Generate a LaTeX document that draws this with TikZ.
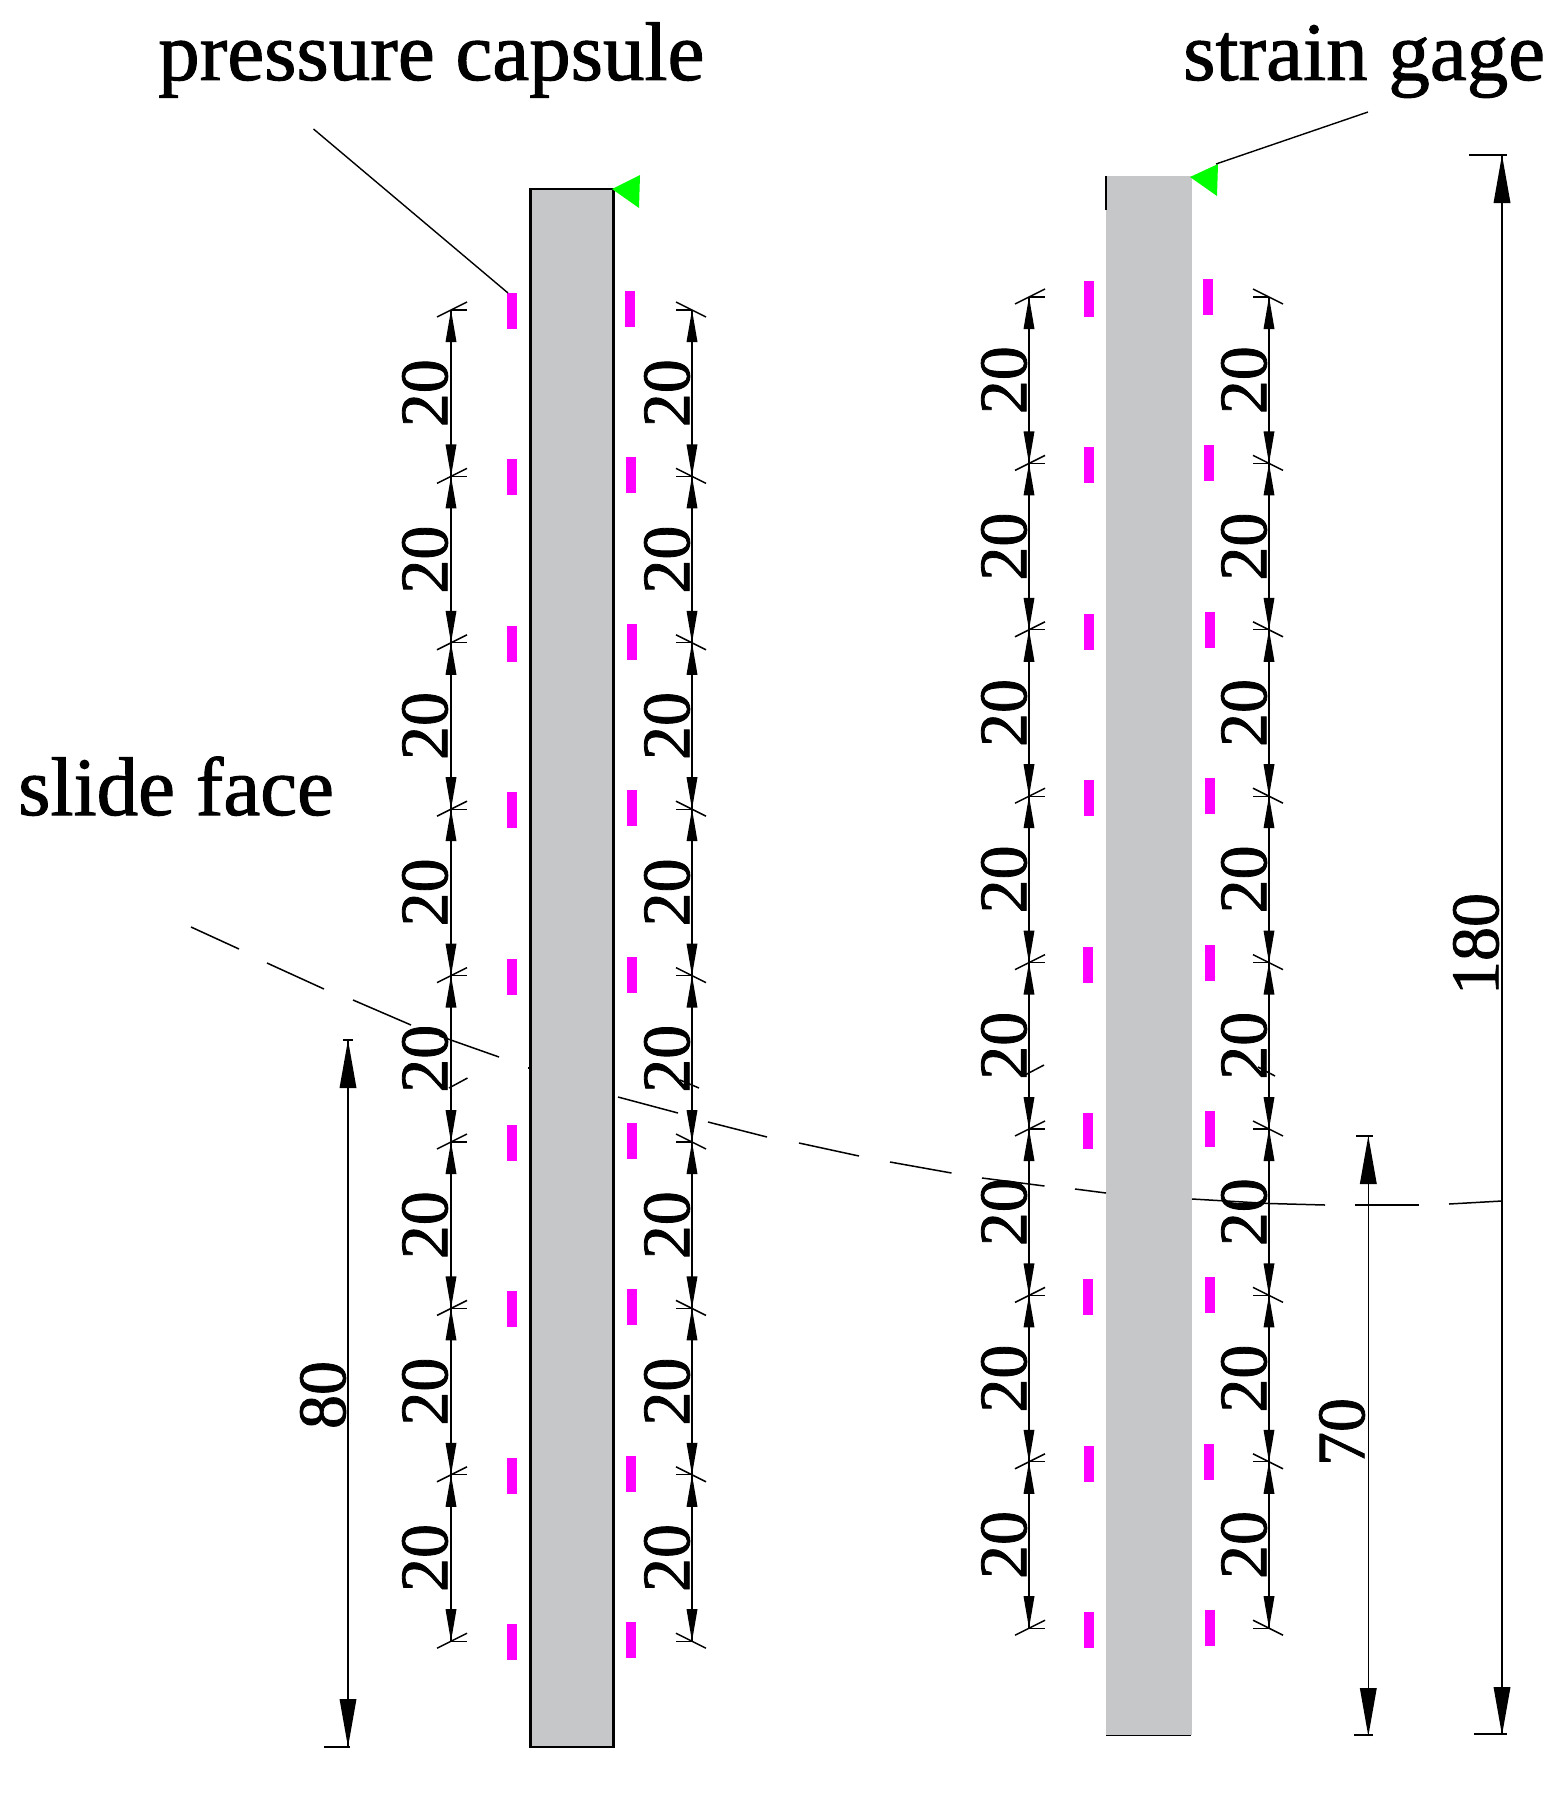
\documentclass[tikz,border=0pt]{standalone}
\usepackage{fontspec}
\setmainfont{Liberation Serif}
\newfontfamily\heavyserif[FakeBold=1.2]{Liberation Serif}
\definecolor{pile}{HTML}{C6C7C9}
\definecolor{mag}{HTML}{FF00FF}
\definecolor{grn}{HTML}{00FF00}
\tikzset{
  biglabel/.style={inner sep=0pt,font=\heavyserif\fontsize{83}{83}\selectfont,anchor=base west},
  dimlabel/.style={inner sep=0pt,font=\heavyserif\fontsize{68}{68}\selectfont,rotate=90},
  tickline/.style={line width=1.5pt,black},
  leader/.style={line width=1.4pt,black},
  slide/.style={line width=1.5pt,black},
  gauge/.style={fill=mag,draw=none},
  head/.style={fill=black,draw=none},
}
\newcommand{\smallhead}[3]{\fill[head] (#1,#2) -- (#1-5.5,#2+#3*32) -- (#1+5.5,#2+#3*32) -- cycle;}
\newcommand{\bighead}[3]{\fill[head] (#1,#2) -- (#1-8.5,#2+#3*48) -- (#1+8.5,#2+#3*48) -- cycle;}
% #1 x, #2 first y, #3 label x, #4 side, #5 line width
\newcommand{\dimcol}[5]{%
  \foreach \i in {0,...,8}{%
    \pgfmathsetmacro{\yy}{#2+\i*166.4}%
    \draw[tickline] (#1-#4*14,\yy+7) -- (#1+#4*16,\yy-8);
    \draw[tickline,line width=1.1pt] (#1,\yy) -- (#1+#4*16,\yy);
  }%
  \foreach \i in {0,...,7}{%
    \pgfmathsetmacro{\ya}{#2+\i*166.4}%
    \pgfmathsetmacro{\yb}{#2+(\i+1)*166.4}%
    \pgfmathsetmacro{\yc}{#2+(\i+0.5)*166.4}%
    \draw[line width=#5] (#1,\ya) -- (#1,\yb);
    \smallhead{#1}{\ya}{1}
    \smallhead{#1}{\yb}{-1}
    \node[dimlabel] (lab-#1-\i) at (#3,\yc) {20};
  }%
}
\begin{document}
\begin{tikzpicture}[x=1pt,y=-1pt]
\useasboundingbox (0,0) rectangle (1561,1801);
% piles
\path[fill=pile] (531,189) rectangle (613,1747);
\draw[line width=2.6pt,black] (530.5,189) -- (613.5,189) -- (613.5,1747) -- (530.5,1747) -- cycle;
\draw[line width=1.2pt,black] (529.5,233) -- (529.5,1747);
\path[fill=pile] (1106,176) rectangle (1192,1735);
\draw[line width=1.2pt,black] (1106,176) -- (1106,210);
\draw[line width=1pt,black] (1106,1735) -- (1191,1735);
% green triangles
\fill[grn] (612,189) -- (640,175) -- (639,208) -- cycle;
\fill[grn] (1190,177) -- (1218,164) -- (1217,196) -- cycle;
% gauges
\foreach \i in {0,...,8}{\pgfmathsetmacro{\yy}{293+\i*166.4}\fill[gauge] (506.5,\yy) rectangle ++(10,36);}
\foreach \i/\xx in {0/625,1/626,2/627,3/627,4/627,5/627,6/627,7/626,8/626}{\pgfmathsetmacro{\yy}{291+\i*166.4}\fill[gauge] (\xx,\yy) rectangle ++(10,36);}
\foreach \i/\xx in {0/1084,1/1084,2/1084,3/1084,4/1083,5/1083,6/1083,7/1084,8/1084}{\pgfmathsetmacro{\yy}{281+\i*166.4}\fill[gauge] (\xx,\yy) rectangle ++(10,36);}
\foreach \i/\xx in {0/1203,1/1204,2/1205,3/1205,4/1205,5/1205,6/1205,7/1204,8/1205}{\pgfmathsetmacro{\yy}{279+\i*166.4}\fill[gauge] (\xx,\yy) rectangle ++(10,36);}
% 20 dimension columns
\dimcol{451}{310}{425}{1}{1.2pt}
\dimcol{692}{310}{667}{-1}{1.2pt}
\dimcol{1029}{297}{1004}{1}{1.8pt}
\dimcol{1269}{297}{1244}{-1}{1.8pt}
% stray ticks
\draw[tickline] (449,1088) -- (467.5,1078);
\draw[tickline] (680,1080) -- (699,1088);
\draw[tickline] (1025,1075) -- (1044,1065);
\draw[tickline] (1258,1067) -- (1275,1076);
% slide face
\coordinate (s0) at (191,927);\coordinate (s1) at (239,949);
\coordinate (s2) at (267,963);\coordinate (s3) at (324,989);
\coordinate (s4) at (353,1000);\coordinate (s5) at (411,1025);
\coordinate (s6) at (439.5,1036);\coordinate (s7) at (499,1057);
\coordinate (s8) at (618,1097);\coordinate (s9) at (678,1113);
\coordinate (s10) at (708,1122);\coordinate (s11) at (767,1137);
\coordinate (s12) at (799,1143);\coordinate (s13) at (859,1156);
\coordinate (s14) at (890,1162);\coordinate (s15) at (951.5,1173);
\coordinate (s16) at (982,1178);\coordinate (s17) at (1044.5,1186);
\coordinate (s18) at (1075,1189);\coordinate (s19) at (1106,1193);
\coordinate (s20) at (1192,1199);\coordinate (s21) at (1269,1203.5);\coordinate (s22) at (1325,1205);
\coordinate (s23) at (1355,1205);\coordinate (s24) at (1419,1205);
\coordinate (s25) at (1449,1204);\coordinate (s26) at (1502,1201);
\foreach \a/\b in {0/1,2/3,4/5,6/7,8/9,10/11,12/13,14/15,16/17,18/19,20/21,21/22,23/24,25/26}{\draw[slide] (s\a) -- (s\b);}
\draw[slide] (528,1068) -- (531,1068);
% big dimensions
\draw[line width=2pt] (348,1040) -- (348,1747);
\bighead{348}{1040}{1}\bighead{348}{1747}{-1}
\draw[line width=1.2pt] (343,1040) -- (353,1040);
\draw[line width=1.2pt] (324,1747) -- (350,1747);
\node[dimlabel] (l80) at (323,1395) {80};
\draw[line width=1.2pt] (1368.3,1136) -- (1368.3,1736);
\bighead{1368.3}{1136}{1}\bighead{1368.3}{1736}{-1}
\draw[line width=1.2pt] (1356,1136) -- (1373,1136);
\draw[line width=1.2pt] (1354,1735) -- (1373,1735);
\node[dimlabel] (l70) at (1342,1432) {70};
\draw[line width=2.6pt] (1502,155) -- (1502,1735);
\bighead{1502}{155}{1}\bighead{1502}{1735}{-1}
\draw[line width=1.6pt] (1469,155) -- (1507,155);
\draw[line width=1.6pt] (1474,1734) -- (1507,1734);
\node[dimlabel] (l180) at (1476,944) {180};
% labels and leaders
\node[biglabel] (pc) at (158,80) {pressure capsule};
\node[biglabel] (sg) at (1183,80) {strain gage};
\node[biglabel] (sf) at (18,815) {slide face};
\coordinate (pcA) at (313.5,129);\coordinate (pcB) at (508,293);
\draw[leader] (pcA) -- (pcB);
\coordinate (sgA) at (1368,112);\coordinate (sgB) at (1216,164);
\draw[leader] (sgA) -- (sgB);
\end{tikzpicture}
\end{document}
